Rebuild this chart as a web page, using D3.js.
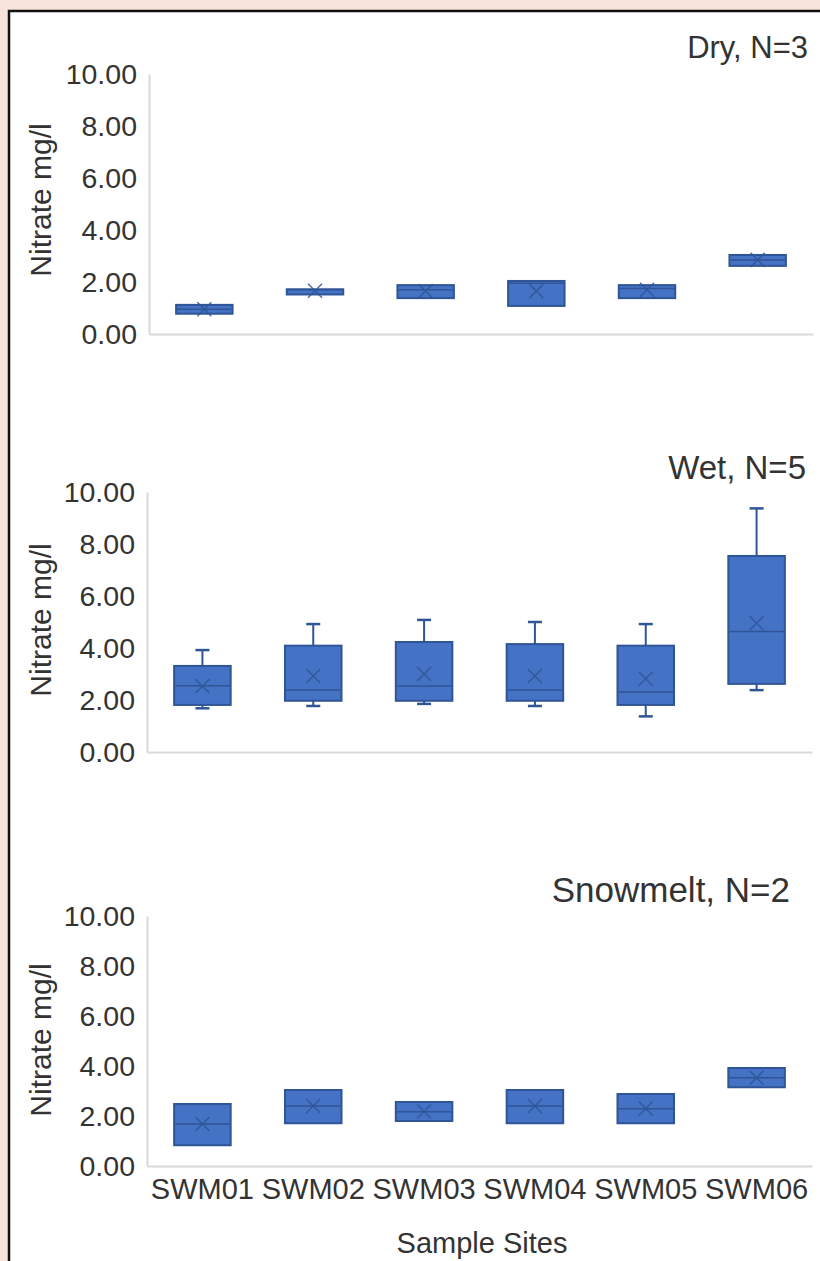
<!DOCTYPE html>
<html><head><meta charset="utf-8">
<script src="https://cdn.jsdelivr.net/npm/d3@7"></script>
<style>
html,body{margin:0;padding:0;background:#f8e4da;}
svg{display:block;}
text{font-family:"Liberation Sans",Arial,sans-serif;fill:#333;}
</style></head>
<body>
<svg id="chart" width="820" height="1261"></svg>
<script>
const sites = ["SWM01","SWM02","SWM03","SWM04","SWM05","SWM06"];
const yTicks = [0,2,4,6,8,10];
const panelTitles = ["Dry, N=3","Wet, N=5","Snowmelt, N=2"];
const yAxisTitle = "Nitrate mg/l";
const xAxisTitle = "Sample Sites";

// Dry season
const dryMin    = [0.78, 1.52, 1.38, 1.08, 1.38, 2.62];
const dryQ1     = [0.78, 1.52, 1.38, 1.08, 1.38, 2.62];
const dryMedian = [0.95, 1.70, 1.70, 1.95, 1.75, 2.85];
const dryQ3     = [1.12, 1.72, 1.88, 2.04, 1.88, 3.04];
const dryMax    = [1.12, 1.72, 1.88, 2.04, 1.88, 3.04];
const dryMean   = [0.95, 1.66, 1.65, 1.65, 1.70, 2.85];
// Wet season
const wetMin    = [1.68, 1.77, 1.85, 1.77, 1.37, 2.38];
const wetQ1     = [1.81, 1.97, 1.97, 1.97, 1.81, 2.62];
const wetMedian = [2.55, 2.38, 2.54, 2.38, 2.31, 4.63];
const wetQ3     = [3.31, 4.09, 4.23, 4.15, 4.09, 7.54];
const wetMax    = [3.92, 4.92, 5.08, 5.00, 4.92, 9.37];
const wetMean   = [2.53, 2.92, 3.00, 2.92, 2.82, 4.95];
// Snowmelt
const snowMin    = [0.83, 1.71, 1.80, 1.71, 1.71, 3.15];
const snowQ1     = [0.83, 1.71, 1.80, 1.71, 1.71, 3.15];
const snowMedian = [1.68, 2.40, 2.17, 2.40, 2.29, 3.53];
const snowQ3     = [2.48, 3.04, 2.56, 3.04, 2.88, 3.92];
const snowMax    = [2.48, 3.04, 2.56, 3.04, 2.88, 3.92];
const snowMean   = [1.68, 2.40, 2.18, 2.40, 2.30, 3.53];

const seriesSets = [
  {min:dryMin, q1:dryQ1, med:dryMedian, q3:dryQ3, max:dryMax, mean:dryMean},
  {min:wetMin, q1:wetQ1, med:wetMedian, q3:wetQ3, max:wetMax, mean:wetMean},
  {min:snowMin, q1:snowQ1, med:snowMedian, q3:snowQ3, max:snowMax, mean:snowMean}
];

// layout
const panels = [
  {left:149, right:813, top:74,  bottom:334,  titleX:808, titleY:47,  titleSize:31, ylabY:200},
  {left:147, right:812, top:492, bottom:752,  titleX:806, titleY:467, titleSize:33, ylabY:620},
  {left:147, right:812, top:916, bottom:1166, titleX:790, titleY:890, titleSize:35, ylabY:1040}
];

const svg = d3.select("#chart");
svg.append("rect").attr("x",9).attr("y",11).attr("width",830).attr("height",1300)
  .attr("fill","#fff").attr("stroke","#111").attr("stroke-width",2.5);

const FILL="#4472c4", DARK="#2f5597";
const FONT="'Liberation Sans',Arial,sans-serif";

panels.forEach((p,i)=>{
  const d = seriesSets[i];
  const rows = sites.map((s,k)=>({site:s,min:d.min[k],q1:d.q1[k],med:d.med[k],q3:d.q3[k],max:d.max[k],mean:d.mean[k]}));
  const x = d3.scaleBand().domain(sites).range([p.left,p.right]).paddingInner(0.49).paddingOuter(0.245);
  const y = d3.scaleLinear().domain([0,10]).range([p.bottom,p.top]);
  const g = svg.append("g");

  const ya = g.append("g").attr("transform",`translate(${p.left},0)`)
    .call(d3.axisLeft(y).tickValues(yTicks).tickSize(0).tickPadding(12).tickFormat(d3.format(".2f")));
  ya.select(".domain").attr("stroke","#d9d9d9").attr("stroke-width",2);
  ya.selectAll("text").attr("font-size",28.5).attr("fill","#333").style("font-family",FONT);

  const xa = g.append("g").attr("transform",`translate(0,${p.bottom})`)
    .call(d3.axisBottom(x).tickSize(0).tickPadding(12).tickFormat(i===2? (v=>v) : ()=>""));
  xa.select(".domain").attr("stroke","#d9d9d9").attr("stroke-width",2);
  xa.selectAll("text").attr("font-size",29).attr("fill","#333").style("font-family",FONT);

  g.append("text").attr("x",p.titleX).attr("y",p.titleY).attr("dy","0.35em")
    .attr("text-anchor","end").attr("font-size",p.titleSize).text(panelTitles[i]);
  g.append("text").attr("transform",`translate(40,${p.ylabY}) rotate(-90)`).attr("dy","0.35em")
    .attr("text-anchor","middle").attr("font-size",30).text(yAxisTitle);

  const bw = x.bandwidth();
  const bx = g.selectAll(".box").data(rows).enter().append("g");
  const cx = r => x(r.site)+bw/2;
  bx.append("line").attr("x1",cx).attr("x2",cx).attr("y1",r=>y(r.max)).attr("y2",r=>y(r.q3))
    .attr("stroke",DARK).attr("stroke-width",2);
  bx.append("line").attr("x1",cx).attr("x2",cx).attr("y1",r=>y(r.min)).attr("y2",r=>y(r.q1))
    .attr("stroke",DARK).attr("stroke-width",2);
  bx.filter(r=>r.max>r.q3).append("line").attr("x1",r=>cx(r)-7).attr("x2",r=>cx(r)+7)
    .attr("y1",r=>y(r.max)).attr("y2",r=>y(r.max)).attr("stroke",DARK).attr("stroke-width",2.5);
  bx.filter(r=>r.min<r.q1).append("line").attr("x1",r=>cx(r)-7).attr("x2",r=>cx(r)+7)
    .attr("y1",r=>y(r.min)).attr("y2",r=>y(r.min)).attr("stroke",DARK).attr("stroke-width",2.5);
  bx.append("rect").attr("x",r=>x(r.site)).attr("width",bw)
    .attr("y",r=>y(r.q3)).attr("height",r=>Math.max(1,y(r.q1)-y(r.q3)))
    .attr("fill",FILL).attr("stroke",DARK).attr("stroke-width",2);
  bx.append("line").attr("x1",r=>x(r.site)+1).attr("x2",r=>x(r.site)+bw-1)
    .attr("y1",r=>y(r.med)).attr("y2",r=>y(r.med)).attr("stroke",DARK).attr("stroke-width",1.5);
  const m = 7;
  bx.append("path").attr("d",r=>{const X=cx(r),Y=y(r.mean);return `M${X-m},${Y-m}L${X+m},${Y+m}M${X-m},${Y+m}L${X+m},${Y-m}`;})
    .attr("stroke",DARK).attr("stroke-width",1.5).attr("opacity",0.85).attr("fill","none");
});

svg.append("text").attr("x",482).attr("y",1243).attr("dy","0.35em").attr("text-anchor","middle")
  .attr("font-size",29).text(xAxisTitle);
</script>
</body></html>
